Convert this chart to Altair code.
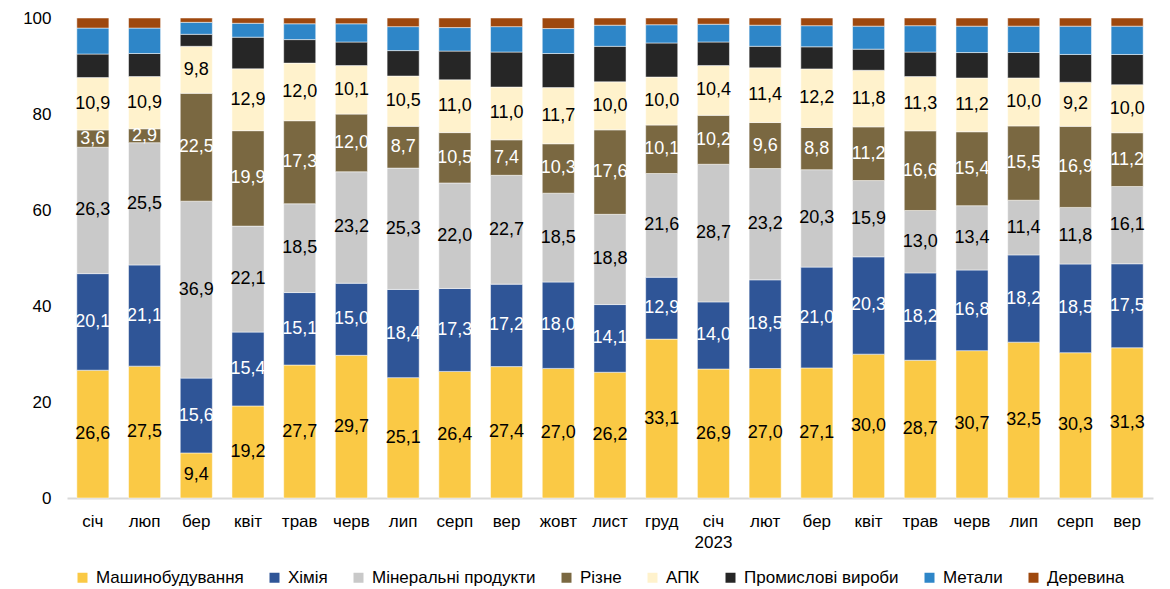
import json
import altair as alt
import pandas as pd

months = ["січ", "люп", "бер", "квіт", "трав", "черв", "лип", "серп", "вер", "жовт", "лист",
          "груд", "січ|2023", "лют", "бер", "квіт", "трав", "черв", "лип", "серп", "вер"]

series = ["Машинобудування", "Хімія", "Мінеральні продукти", "Різне", "АПК",
          "Промислові вироби", "Метали", "Деревина"]
colors = ["#FAC945", "#2F5597", "#C9C9C9", "#7A6841", "#FFF2CC", "#262626", "#2E86C8", "#9E480E"]

mashyno = [26.6, 27.5, 9.4, 19.2, 27.7, 29.7, 25.1, 26.4, 27.4, 27.0, 26.2, 33.1, 26.9, 27.0, 27.1, 30.0, 28.7, 30.7, 32.5, 30.3, 31.3]
khimiia = [20.1, 21.1, 15.6, 15.4, 15.1, 15.0, 18.4, 17.3, 17.2, 18.0, 14.1, 12.9, 14.0, 18.5, 21.0, 20.3, 18.2, 16.8, 18.2, 18.5, 17.5]
mineralni = [26.3, 25.5, 36.9, 22.1, 18.5, 23.2, 25.3, 22.0, 22.7, 18.5, 18.8, 21.6, 28.7, 23.2, 20.3, 15.9, 13.0, 13.4, 11.4, 11.8, 16.1]
rizne = [3.6, 2.9, 22.5, 19.9, 17.3, 12.0, 8.7, 10.5, 7.4, 10.3, 17.6, 10.1, 10.2, 9.6, 8.8, 11.2, 16.6, 15.4, 15.5, 16.9, 11.2]
apk = [10.9, 10.9, 9.8, 12.9, 12.0, 10.1, 10.5, 11.0, 11.0, 11.7, 10.0, 10.0, 10.4, 11.4, 12.2, 11.8, 11.3, 11.2, 10.0, 9.2, 10.0]
promyslovi = [4.9, 4.8, 2.5, 6.6, 4.9, 4.9, 5.3, 6.0, 7.3, 7.1, 7.4, 7.1, 4.9, 4.5, 4.6, 4.4, 5.1, 5.3, 5.3, 5.8, 6.3]
metaly = [5.4, 5.3, 2.5, 2.9, 3.3, 3.8, 5.0, 4.9, 5.3, 5.2, 4.4, 3.8, 3.7, 4.4, 4.4, 4.8, 5.5, 5.5, 5.5, 5.9, 5.9]
derevyna = [2.1, 2.1, 0.9, 1.1, 1.2, 1.2, 1.8, 2.0, 1.8, 2.2, 1.5, 1.4, 1.3, 1.5, 1.6, 1.7, 1.6, 1.7, 1.7, 1.7, 1.7]

values = [mashyno, khimiia, mineralni, rizne, apk, promyslovi, metaly, derevyna]

rows = []
for si, (name, vals) in enumerate(zip(series, values)):
    for mi, v in enumerate(vals):
        rows.append({"idx": mi, "series": name, "ord": si, "v": v})
df = pd.DataFrame(rows)

FONT = "Liberation Sans"
label_expr = "split(" + json.dumps(months, ensure_ascii=False) + "[datum.value], '|')"

base = alt.Chart(df).transform_stack(
    stack="v", groupby=["idx"], as_=["s0", "s1"],
    sort=[alt.SortField("ord", order="ascending")], offset="normalize"
).transform_calculate(
    y0="datum.s0*100", y1="datum.s1*100", ym="(datum.s0+datum.s1)*50",
    label="replace(format(datum.v, '.1f'), '.', ',')"
)

xenc = alt.X("idx:O", scale=alt.Scale(paddingInner=0.38, paddingOuter=0.19),
             axis=alt.Axis(title=None, labelExpr=label_expr, labelAngle=0, ticks=False,
                           domainColor="#D9D9D9", domainWidth=2, labelFontSize=17,
                           labelPadding=15, labelColor="black", labelFont=FONT,
                           labelLineHeight=21))

bars = base.mark_bar(stroke="white", strokeWidth=0.5).encode(
    x=xenc,
    y=alt.Y("y0:Q", scale=alt.Scale(domain=[0, 100], nice=False),
            axis=alt.Axis(title=None, values=[0, 20, 40, 60, 80, 100], grid=False, domain=False,
                          ticks=False, labelPadding=16, labelFontSize=17, labelColor="black",
                          labelFont=FONT)),
    y2="y1:Q",
    color=alt.Color("series:N", scale=alt.Scale(domain=series, range=colors),
                    legend=alt.Legend(title=None, orient="none", direction="horizontal",
                                      columns=8, legendX=7, legendY=551,
                                      symbolType="square", symbolSize=100, symbolStrokeWidth=0,
                                      labelFontSize=17, labelFont=FONT, labelColor="black",
                                      labelLimit=400, columnPadding=22, labelOffset=5)),
)

text = base.transform_filter("datum.ord < 5").mark_text(fontSize=18, font=FONT).encode(
    x=alt.X("idx:O"),
    y=alt.Y("ym:Q"),
    text="label:N",
    color=alt.condition("datum.ord == 1 || datum.ord == 3", alt.value("white"), alt.value("black")),
)

chart = alt.layer(bars, text).properties(
    width=1086, height=480,
    padding={"left": 14, "top": 1, "right": 5, "bottom": 5},
).configure_view(stroke=None)

chart.save("out.html", embed_options={"renderer": "svg", "actions": False})
